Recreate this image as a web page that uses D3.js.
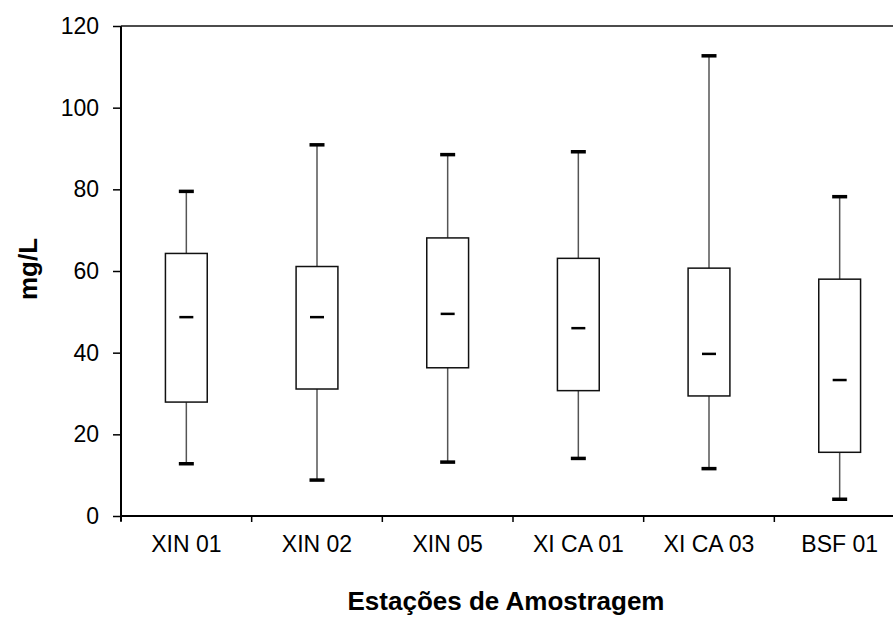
<!DOCTYPE html>
<html>
<head>
<meta charset="utf-8">
<script src="https://cdn.jsdelivr.net/npm/d3@7"></script>
<style>
  body { margin: 0; background: #fff; }
  text { font-family: "Liberation Sans", Arial, sans-serif; fill: #000; }
</style>
</head>
<body>
<svg id="chart"></svg>
<script>
// Values
const stations = ['XIN 01', 'XIN 02', 'XIN 05', 'XI CA 01', 'XI CA 03', 'BSF 01'];
const whiskerLow = [12.8, 8.8, 13.2, 14.1, 11.6, 4.1];
const q1 = [27.9, 31.1, 36.3, 30.7, 29.4, 15.6];
const median = [48.7, 48.7, 49.5, 46.0, 39.7, 33.3];
const q3 = [64.3, 61.1, 68.1, 63.1, 60.7, 58.0];
const whiskerHigh = [79.5, 90.9, 88.5, 89.2, 112.7, 78.2];
const yTicks = [0, 20, 40, 60, 80, 100, 120];

const width = 893, height = 617;
const margin = { top: 26, left: 121, bottom: 101 };
const plotRight = 905; // the frame runs past the right edge of the picture

const rows = stations.map((s, i) => ({
  name: s, lo: whiskerLow[i], q1: q1[i], med: median[i], q3: q3[i], hi: whiskerHigh[i]
}));

const svg = d3.select("#chart")
  .attr("width", width)
  .attr("height", height);

const x = d3.scaleBand()
  .domain(stations)
  .range([margin.left, plotRight])
  .padding(0);

const y = d3.scaleLinear()
  .domain([0, 120])
  .range([height - margin.bottom, margin.top]);

const boxW = x.bandwidth() * 0.32;
const capW = 15;
const medW = 14;

// y axis
const yAxis = svg.append("g")
  .attr("transform", `translate(${ margin.left },0)`)
  .call(d3.axisLeft(y).tickValues(yTicks).tickSize(8).tickPadding(14).tickFormat(d3.format("d")));
yAxis.select(".domain").attr("stroke", "#000").attr("stroke-width", 2)
  .attr("d", `M0,${ y(120) }V${ y(0) + 5 }`);
yAxis.selectAll(".tick line").attr("stroke", "#000").attr("stroke-width", 1.5);
yAxis.selectAll(".tick text").style("font-size", "23px").style("font-family", "Liberation Sans, Arial, sans-serif");

// top frame line at 120
svg.append("line")
  .attr("x1", margin.left).attr("x2", plotRight)
  .attr("y1", y(120)).attr("y2", y(120))
  .attr("stroke", "#111").attr("stroke-width", 1.5);

// x axis with ticks at category boundaries
const boundaries = stations.map(s => x(s)).concat([plotRight]);
const xAxis = svg.append("g");
xAxis.append("line")
  .attr("x1", margin.left).attr("x2", plotRight)
  .attr("y1", y(0)).attr("y2", y(0))
  .attr("stroke", "#000").attr("stroke-width", 2);
xAxis.selectAll("line.tick")
  .data(boundaries)
  .enter()
  .append("line")
  .attr("class", "tick")
  .attr("x1", d => d).attr("x2", d => d)
  .attr("y1", y(0)).attr("y2", y(0) + 6)
  .attr("stroke", "#000").attr("stroke-width", 1.5);
xAxis.selectAll("text")
  .data(stations)
  .enter()
  .append("text")
  .attr("x", d => x(d) + x.bandwidth() / 2)
  .attr("y", 552)
  .attr("text-anchor", "middle")
  .style("font-size", "23px")
  .text(d => d);

// boxes
const box = svg.append("g")
  .selectAll("g")
  .data(rows)
  .enter()
  .append("g")
  .attr("transform", d => `translate(${ x(d.name) + x.bandwidth() / 2 },0)`);

box.append("line")
  .attr("x1", 0).attr("x2", 0)
  .attr("y1", d => y(d.hi)).attr("y2", d => y(d.q3))
  .attr("stroke", "#555").attr("stroke-width", 1.5);
box.append("line")
  .attr("x1", 0).attr("x2", 0)
  .attr("y1", d => y(d.q1)).attr("y2", d => y(d.lo))
  .attr("stroke", "#555").attr("stroke-width", 1.5);

box.append("rect")
  .attr("x", -boxW / 2)
  .attr("width", boxW)
  .attr("y", d => y(d.q3))
  .attr("height", d => y(d.q1) - y(d.q3))
  .attr("fill", "#fff")
  .attr("stroke", "#111")
  .attr("stroke-width", 1.5);

// whisker caps
box.append("line")
  .attr("x1", -capW / 2).attr("x2", capW / 2)
  .attr("y1", d => y(d.hi)).attr("y2", d => y(d.hi))
  .attr("stroke", "#000").attr("stroke-width", 3.5);
box.append("line")
  .attr("x1", -capW / 2).attr("x2", capW / 2)
  .attr("y1", d => y(d.lo)).attr("y2", d => y(d.lo))
  .attr("stroke", "#000").attr("stroke-width", 3.5);

// median
box.append("line")
  .attr("x1", -medW / 2).attr("x2", medW / 2)
  .attr("y1", d => y(d.med)).attr("y2", d => y(d.med))
  .attr("stroke", "#000").attr("stroke-width", 2.5);

// axis titles
svg.append("text")
  .attr("x", 506)
  .attr("y", 610)
  .attr("text-anchor", "middle")
  .style("font-size", "26px")
  .style("font-weight", "bold")
  .text("Estações de Amostragem");

svg.append("text")
  .attr("transform", `translate(37,${ (y(0) + y(120)) / 2 - 2 }) rotate(-90)`)
  .attr("text-anchor", "middle")
  .style("font-size", "26px")
  .style("font-weight", "bold")
  .text("mg/L");
</script>
</body>
</html>
